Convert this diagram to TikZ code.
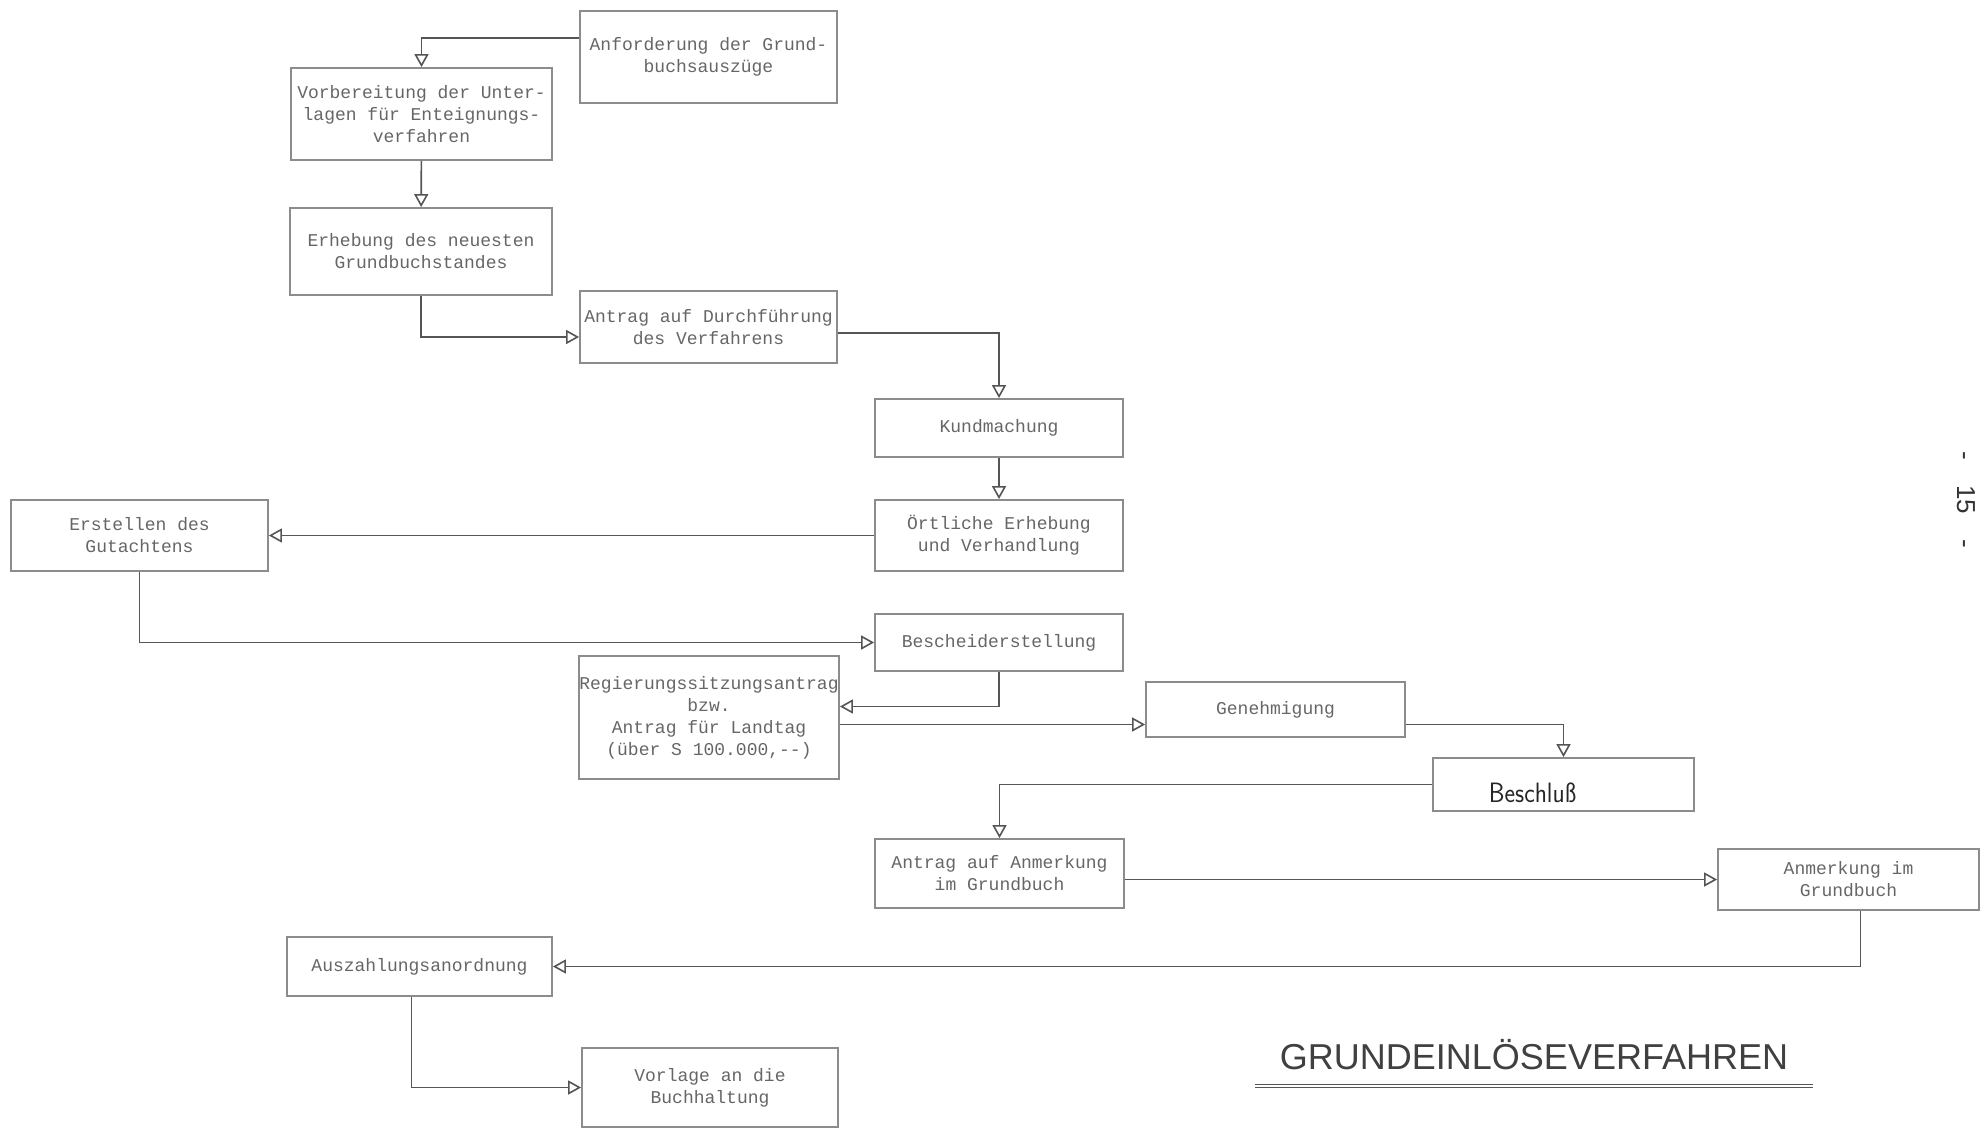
\documentclass[tikz,border=0pt]{standalone}
\usepackage{fontspec}
\setmainfont{Liberation Sans}
\setmonofont{Liberation Mono}
\usetikzlibrary{arrows.meta, positioning}
\definecolor{ink}{HTML}{555555}
\definecolor{frame}{HTML}{8C8C8C}
\definecolor{txt}{HTML}{666666}

\begin{document}
\begin{tikzpicture}[
  x=1pt, y=-1pt,
  box/.style={draw=frame, rectangle, line width=1.8pt, inner sep=0pt, align=center,
              font=\fontsize{18}{22}\selectfont\ttfamily, text=txt},
  flow/.style={draw=ink, line width=1.6pt, ->},
  >={Triangle[open, length=13pt, width=14pt]}
]
\useasboundingbox (0,0) rectangle (1985,1129);

\node[box, minimum width=257, minimum height=92] (anf)     at (708.5,57)    {Anforderung der Grund-\\buchsauszüge};
\node[box, minimum width=261, minimum height=92] (vorb)    at (421.5,114)   {Vorbereitung der Unter-\\lagen für Enteignungs-\\verfahren};
\node[box, minimum width=262, minimum height=87] (erheb)   at (421,251.5)   {Erhebung des neuesten\\Grundbuchstandes};
\node[box, minimum width=257, minimum height=72] (antragD) at (708.5,327)   {Antrag auf Durchführung\\des Verfahrens};
\node[box, minimum width=248, minimum height=58] (kund)    at (999,428)     {Kundmachung};
\node[box, minimum width=248, minimum height=71] (oertl)   at (999,535.5)   {Örtliche Erhebung\\und Verhandlung};
\node[box, minimum width=257, minimum height=71] (erst)    at (139.5,535.5) {Erstellen des\\Gutachtens};
\node[box, minimum width=248, minimum height=57] (besch)   at (999,642.5)   {Bescheiderstellung};
\node[box, minimum width=260, minimum height=123] (regier) at (709,717.5)   {Regierungssitzungsantrag\\bzw.\\Antrag für Landtag\\(über S 100.000,--)};
\node[box, minimum width=259, minimum height=55] (geneh)   at (1275.5,709.5) {Genehmigung};
\node[box, minimum width=261, minimum height=53, text=black!85,
      font=\fontsize{28}{32}\selectfont\sffamily] (beschl) at (1563.5,784.5)
      {\raisebox{-17.5pt}[0pt][0pt]{\scalebox{0.9}[1]{Beschluß}}\hspace*{62pt}};
\node[box, minimum width=249, minimum height=69] (antragA) at (999.5,873.5) {Antrag auf Anmerkung\\im Grundbuch};
\node[box, minimum width=261, minimum height=61] (anmerk)  at (1848.5,879.5) {Anmerkung im\\Grundbuch};
\node[box, minimum width=265, minimum height=59] (ausz)    at (419.5,966.5) {Auszahlungsanordnung};
\node[box, minimum width=256, minimum height=79] (vorlage) at (710,1087.5)  {Vorlage an die\\Buchhaltung};

% title and page number
\node[text=black!75, font=\fontsize{36}{40}\selectfont] (titel) at (1534,1055) {GRUNDEINLÖSEVERFAHREN};
\draw[ink, line width=1.2pt, double=white, double distance=1.2pt] (1255,1086) -- (1813,1086);
\node[text=black!80, font=\fontsize{26}{30}\selectfont, rotate=-90] (seite) at (1966,500)
      {-\hspace{25pt}15\hspace{25pt}-};

% connectors
\coordinate (r2) at ([yshift=-7pt]regier.east);
\coordinate (a2) at ([yshift=-6pt]antragA.east);
\draw[flow] ([yshift=19pt]anf.west) -| (vorb.north);
\draw[flow] (vorb) -- (erheb);
\draw[flow] (erheb.south) |- ([yshift=-10pt]antragD.west);
\draw[flow] ([yshift=-6pt]antragD.east) -| (kund.north);
\draw[flow] (kund) -- (oertl);
\draw[flow] (oertl) -- (erst);
\draw[flow] (erst.south) |- (besch.west);
\draw[flow] (besch.south) |- ([yshift=11pt]regier.east);
\draw[flow] (r2) -- (r2 -| geneh.west);
\draw[flow] ([yshift=-15pt]geneh.east) -| (beschl.north);
\draw[flow] (beschl.west) -| (antragA.north);
\draw[flow] (a2) -- (a2 -| anmerk.west);
\draw[flow] ([xshift=12pt]anmerk.south) |- (ausz.east);
\draw[flow] ([xshift=-8pt]ausz.south) |- (vorlage.west);
\end{tikzpicture}
\end{document}
